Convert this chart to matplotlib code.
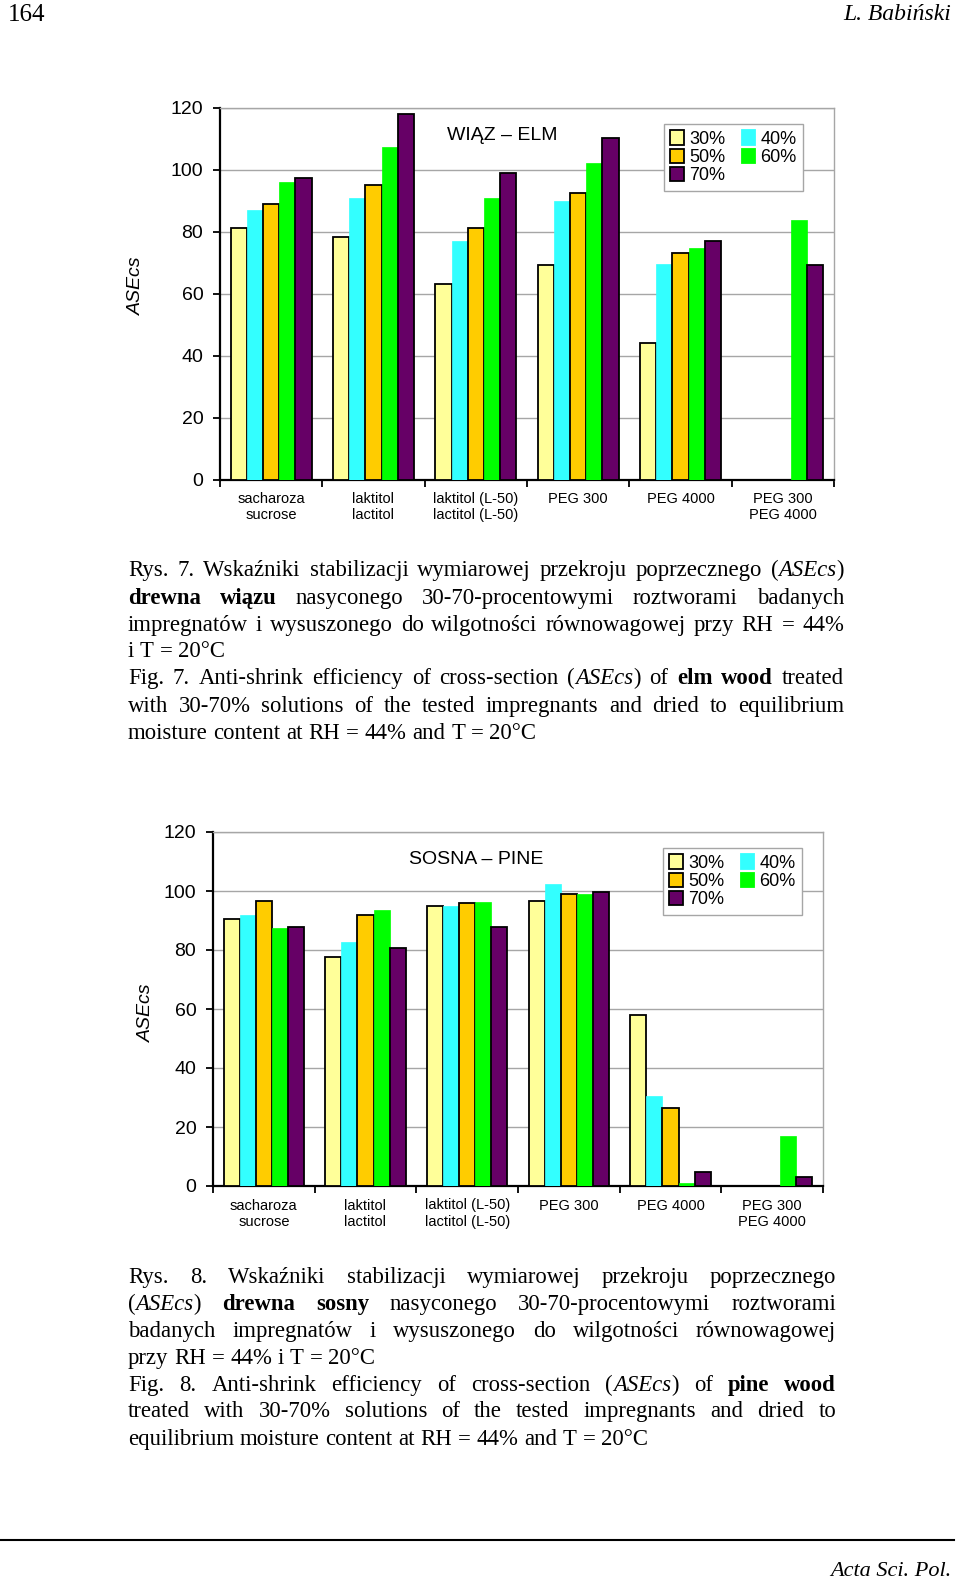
import re
import numpy as np
import matplotlib
matplotlib.use("Agg")
import matplotlib.pyplot as plt
from matplotlib.patches import Patch
from matplotlib.lines import Line2D

W, H = 960, 1583
SANS = "Liberation Sans"
SERIF = "Liberation Serif"

CATEGORIES = ["sacharoza\nsucrose", "laktitol\nlactitol", "laktitol (L-50)\nlactitol (L-50)",
              "PEG 300", "PEG 4000", "PEG 300\nPEG 4000"]
CONCENTRATIONS = ["30%", "40%", "50%", "60%", "70%"]
COLORS = ["#FFFF99", "#33FFFF", "#FFCC00", "#00FF00", "#660066"]
EDGED = [True, False, True, False, True]
Y_TICKS = [0, 20, 40, 60, 80, 100, 120]

# elm wood (None = not tested)
ELM_30 = [81.1, 78.3, 63.2, 69.3, 44.1, None]
ELM_40 = [87.1, 91.0, 77.1, 89.9, 69.6, None]
ELM_50 = [88.9, 95.1, 81.1, 92.4, 73.2, None]
ELM_60 = [96.1, 107.3, 91.0, 102.2, 74.8, 83.7]
ELM_70 = [97.3, 118.1, 98.9, 110.2, 77.2, 69.4]

# pine wood
PINE_30 = [90.6, 77.6, 94.9, 96.6, 58.0, None]
PINE_40 = [91.7, 82.8, 94.8, 102.4, 30.4, None]
PINE_50 = [96.6, 91.9, 96.0, 98.9, 26.6, None]
PINE_60 = [87.5, 93.4, 96.3, 98.9, 1.0, 17.0]
PINE_70 = [87.7, 80.7, 87.7, 99.6, 4.7, 2.9]

# captions: {i:..} italic, {b:..} bold; flag = justified line
CAPTION_7 = [
    ("Rys. 7. Wskaźniki stabilizacji wymiarowej przekroju poprzecznego ({i:ASEcs})", True),
    ("{b:drewna} {b:wiązu} nasyconego 30-70-procentowymi roztworami badanych", True),
    ("impregnatów i wysuszonego do wilgotności równowagowej przy RH = 44%", True),
    ("i T = 20°C", False),
    ("Fig. 7. Anti-shrink efficiency of cross-section ({i:ASEcs}) of {b:elm} {b:wood} treated", True),
    ("with 30-70% solutions of the tested impregnants and dried to equilibrium", True),
    ("moisture content at RH = 44% and T = 20°C", False),
]
CAPTION_8 = [
    ("Rys. 8. Wskaźniki stabilizacji wymiarowej przekroju poprzecznego", True),
    ("({i:ASEcs}) {b:drewna} {b:sosny} nasyconego 30-70-procentowymi roztworami", True),
    ("badanych impregnatów i wysuszonego do wilgotności równowagowej", True),
    ("przy RH = 44% i T = 20°C", False),
    ("Fig. 8. Anti-shrink efficiency of cross-section ({i:ASEcs}) of {b:pine} {b:wood}", True),
    ("treated with 30-70% solutions of the tested impregnants and dried to", True),
    ("equilibrium moisture content at RH = 44% and T = 20°C", False),
]

BAR_W = 0.158
CAP_SIZE = 16.4

fig = plt.figure(figsize=(W / 100, H / 100), dpi=100)
fig.patch.set_facecolor("white")
renderer = fig.canvas.get_renderer()


def fx(px):
    return px / W


def fy(py):
    return 1 - py / H


def draw_chart(box, series, title, title_xy, ylabel_xy, legend_xy):
    left, top, right, bottom = box
    ax = fig.add_axes([fx(left), fy(bottom), (right - left) / W, (bottom - top) / H])
    x = np.arange(len(CATEGORIES))
    for i, vals in enumerate(series):
        h = np.array([np.nan if v is None else v for v in vals], dtype=float)
        ok = ~np.isnan(h)
        ax.bar(x[ok] + (i - 2) * BAR_W, h[ok], BAR_W, color=COLORS[i],
               edgecolor="black" if EDGED[i] else COLORS[i],
               linewidth=1.3 if EDGED[i] else 0.5, zorder=3)
    ax.set_xlim(-0.5, len(CATEGORIES) - 0.5)
    ax.set_ylim(0, 120)
    ax.set_yticks(Y_TICKS)
    ax.set_yticklabels([str(t) for t in Y_TICKS], fontsize=14, family=SANS)
    ax.set_xticks(x)
    ax.set_xticklabels(CATEGORIES, fontsize=10.5, family=SANS, linespacing=1.2)
    ax.set_xticks(np.arange(-0.5, len(CATEGORIES)), minor=True)
    ax.tick_params(axis="x", which="major", length=0, pad=9)
    ax.tick_params(axis="x", which="minor", length=5, width=1.3)
    ax.tick_params(axis="y", length=5, width=1.3, pad=7)
    ax.grid(axis="y", color="#a6a6a6", linewidth=1.0, zorder=0)
    ax.set_axisbelow(True)
    for s in ("top", "right"):
        ax.spines[s].set_color("#a6a6a6")
        ax.spines[s].set_linewidth(1.0)
    for s in ("left", "bottom"):
        ax.spines[s].set_linewidth(1.6)

    fig.text(fx(title_xy[0]), fy(title_xy[1]), title, family=SANS, fontsize=14,
             ha="center", va="center")
    fig.text(fx(ylabel_xy[0]), fy(ylabel_xy[1]), "ASEcs", family=SANS, fontsize=14,
             style="italic", rotation=90, ha="center", va="center")

    handles = [Patch(facecolor=COLORS[i], edgecolor="black" if EDGED[i] else COLORS[i],
                     linewidth=1.3, label=CONCENTRATIONS[i]) for i in (0, 2, 4, 1, 3)]
    leg = fig.legend(handles=handles, ncol=2, loc="upper left",
                     bbox_to_anchor=(fx(legend_xy[0]), fy(legend_xy[1])),
                     bbox_transform=fig.transFigure, frameon=True, fancybox=False,
                     edgecolor="#a6a6a6", framealpha=1, borderaxespad=0,
                     prop={"family": SANS, "size": 13}, handlelength=0.75,
                     handleheight=0.85, handletextpad=0.3, columnspacing=0.9,
                     labelspacing=0.05, borderpad=0.35)
    leg.get_frame().set_linewidth(1.0)
    return ax


TOKEN = re.compile(r"\{([ib]):([^}]*)\}")
STYLE = {None: {}, "i": {"style": "italic"}, "b": {"weight": "bold"}}


def segments(word):
    out, pos = [], 0
    for m in TOKEN.finditer(word):
        if m.start() > pos:
            out.append((word[pos:m.start()], None))
        out.append((m.group(2), m.group(1)))
        pos = m.end()
    if pos < len(word):
        out.append((word[pos:], None))
    return out


def seg_width(txt, kind):
    t = fig.text(0, 0, txt, fontsize=CAP_SIZE, family=SERIF, **STYLE[kind])
    w = t.get_window_extent(renderer).width
    t.remove()
    return w


def split_words(line):
    # split on spaces outside of {..} markup
    words, depth, cur = [], 0, ""
    for ch in line:
        if ch == "{":
            depth += 1
        elif ch == "}":
            depth -= 1
        if ch == " " and depth == 0:
            words.append(cur)
            cur = ""
        else:
            cur += ch
    words.append(cur)
    return words


def draw_paragraph(lines, x0, x1, ys):
    space = seg_width("a a", None) - seg_width("aa", None)
    for (line, justify), yc in zip(lines, ys):
        words = [segments(w) for w in split_words(line)]
        widths = [[seg_width(t, k) for t, k in segs] for segs in words]
        total = sum(sum(ws) for ws in widths)
        gap = (x1 - x0 - total) / (len(words) - 1) if justify and len(words) > 1 else space
        x = x0
        base = yc + 6
        for segs, ws in zip(words, widths):
            for (t, k), w in zip(segs, ws):
                fig.text(fx(x), fy(base), t, fontsize=CAP_SIZE, family=SERIF,
                         ha="left", va="baseline", **STYLE[k])
                x += w
            x += gap


draw_chart((220, 108, 834, 479.5), [ELM_30, ELM_40, ELM_50, ELM_60, ELM_70],
           "WIĄZ – ELM", (502, 136), (136, 286), (664, 124))
draw_chart((213, 832, 823, 1186), [PINE_30, PINE_40, PINE_50, PINE_60, PINE_70],
           "SOSNA – PINE", (476, 859), (146, 1013), (663, 848))

draw_paragraph(CAPTION_7, 128, 844, [570, 598, 625, 651, 678, 706, 733])
draw_paragraph(CAPTION_8, 128, 836, [1277, 1304, 1331, 1358, 1385, 1411, 1439])

# page header / footer
fig.text(fx(8), fy(15), "164", family=SERIF, fontsize=18, ha="left", va="center")
fig.text(fx(951), fy(15), "L. Babiński", family=SERIF, fontsize=17, style="italic",
         ha="right", va="center")
fig.add_artist(Line2D([0, fx(954)], [fy(1540), fy(1540)], transform=fig.transFigure,
                      color="black", linewidth=1.5))
fig.text(fx(951), fy(1571), "Acta Sci. Pol.", family=SERIF, fontsize=16, style="italic",
         ha="right", va="center")

fig.savefig("out.png", dpi=100, facecolor="white")
